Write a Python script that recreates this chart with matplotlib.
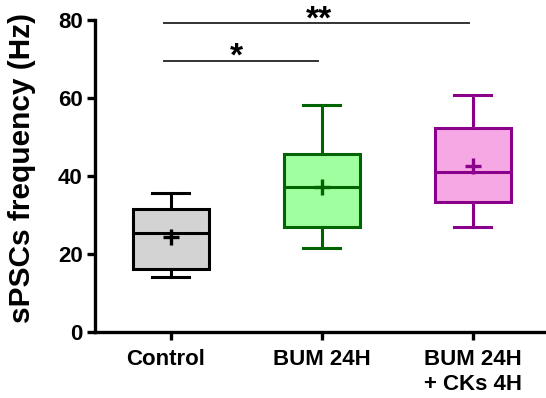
import matplotlib
matplotlib.use("Agg")
import matplotlib.pyplot as plt
import matplotlib.transforms as mtransforms

plt.rcParams['font.family'] = ['Liberation Sans', 'DejaVu Sans']
plt.rcParams['font.weight'] = 'bold'

categories = ["Control", "BUM 24H", "BUM 24H\n+ CKs 4H"]
whislo = [14.1, 21.7, 27.1]
q1 = [16.2, 27.1, 33.4]
med = [25.4, 37.3, 41.2]
q3 = [31.6, 45.6, 52.3]
whishi = [35.8, 58.3, 60.8]
means = [24.4, 37.3, 42.6]
face_colors = ["#d3d3d3", "#a0ff9f", "#f5a8e3"]
edge_colors = ["#000000", "#006400", "#8b008b"]

# significance bars: (from, to, y, label)
sig_pairs = [(0, 1, 69.6, "*"), (0, 2, 79.2, "**")]

stats = []
for i, name in enumerate(categories):
    stats.append(dict(label=name, whislo=whislo[i], q1=q1[i], med=med[i],
                      q3=q3[i], whishi=whishi[i], mean=means[i], fliers=[]))

fig = plt.figure(figsize=(5.46, 3.98), dpi=100)
ax = fig.add_axes([0.174, 0.165, 0.826, 0.784])

positions = list(range(len(categories)))
for i, s in enumerate(stats):
    ec = edge_colors[i]
    ax.bxp([s], positions=[positions[i]], widths=0.503, patch_artist=True,
           showmeans=True, showfliers=False,
           boxprops=dict(facecolor=face_colors[i], edgecolor=ec, linewidth=2.2),
           medianprops=dict(color=ec, linewidth=2.2),
           whiskerprops=dict(color=ec, linewidth=2.2),
           capprops=dict(color=ec, linewidth=2.2),
           capwidths=0.245,
           meanprops=dict(marker='+', markeredgecolor=ec, markersize=11,
                          markeredgewidth=2.4))

star_x = {"*": 0.437, "**": 0.985}
for a, b, y, lab in sig_pairs:
    ax.plot([a - 0.042, b - 0.023], [y, y], color='#333333', lw=1.4, clip_on=False)
    ax.text(star_x[lab], y - 1.3, lab, ha='center', va='baseline', fontsize=24,
            fontweight='bold', clip_on=False)

ax.set_xlim(-0.501, 2.485)
ax.set_ylim(0, 80)
ax.set_yticks([0, 20, 40, 60, 80])
ax.set_xticks(positions)
ax.set_xticklabels(categories, linespacing=1.25)
ax.set_ylabel("sPSCs frequency (Hz)", fontsize=21.5, fontweight='bold')
ax.yaxis.set_label_coords(-0.13, 0.528)

for side in ['top', 'right']:
    ax.spines[side].set_visible(False)
for side in ['left', 'bottom']:
    ax.spines[side].set_linewidth(2.4)
ax.tick_params(axis='both', width=2.4, length=6, labelsize=16)
ax.tick_params(axis='y', pad=3)
ax.tick_params(axis='x', pad=6)

# GraphPad-style: first category label sits slightly left of its tick
lbl = ax.get_xticklabels()[0]
lbl.set_transform(lbl.get_transform() + mtransforms.ScaledTranslation(-5 / 100, 0, fig.dpi_scale_trans))

fig.savefig("out.png", dpi=100)
